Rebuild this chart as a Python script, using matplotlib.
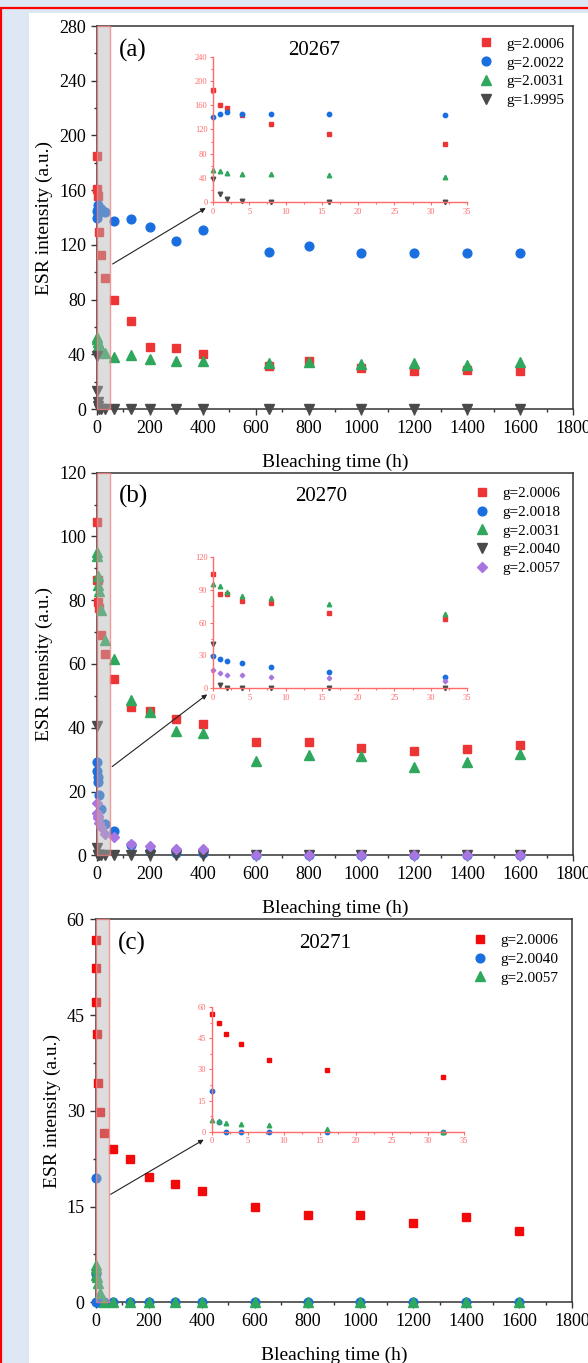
import matplotlib
matplotlib.use('Agg')
import matplotlib.pyplot as plt
from matplotlib.patches import Rectangle
from matplotlib.ticker import MultipleLocator

plt.rcParams['font.family'] = ['Liberation Serif', 'DejaVu Serif']

# Bleaching times (h)
t_a = [0, 1, 2, 4, 8, 16, 32, 64, 128, 200, 300, 400, 650, 800, 1000, 1200, 1400, 1600]
t_bc = [0, 1, 2, 4, 8, 16, 32, 64, 128, 200, 300, 400, 600, 800, 1000, 1200, 1400, 1600]

# (a) sample 20267
a_g20006 = [184.7, 161, 156, 143.8, 129.4, 112.8, 95.7, 79.5, 64.6, 45.4, 44.4, 40.2, 31.2, 35.1, 30.2, 27.8, 28.3, 27.8]
a_g20022 = [140, 145, 148.8, 146, 146, 146, 143.8, 137.6, 138.8, 132.9, 123.2, 131.2, 114.9, 119.3, 113.9, 113.9, 114.4, 114.4]
a_g20031 = [53, 50.9, 48.7, 45.9, 46.5, 44.2, 40.9, 38, 39.5, 36.8, 35.4, 35.4, 33.9, 34.1, 32.9, 33.9, 32.4, 34.6]
a_g19995 = [38.7, 13.3, 5.5, 2.2, 0, 0, 0, 0, 0, 0, 0, 0, 0, 0, 0, 0, 0, 0]

# (b) sample 20270
b_g20006 = [104.5, 86.2, 86.2, 79.5, 77.7, 69.2, 63.1, 55.4, 46.4, 45.4, 42.9, 41.3, 35.6, 35.5, 33.6, 32.8, 33.2, 34.6]
b_g20018 = [29.2, 26.5, 24.7, 23.1, 18.9, 14.6, 9.7, 7.6, 3.1, 1.5, 0.8, 0.6, 0, 0, 0, 0, 0, 0]
b_g20031 = [95, 93.8, 87.7, 84.7, 82.8, 76.8, 67.6, 61.5, 48.7, 44.8, 38.9, 38.5, 29.7, 31.5, 31.1, 27.8, 29.4, 31.7]
b_g20040 = [40.6, 2.4, 0, 0, 0, 0, 0, 0, 0, 0, 0, 0, 0, 0, 0, 0, 0, 0]
b_g20057 = [16.4, 13.4, 12.2, 11.6, 10, 8.8, 6.7, 5.6, 3.6, 3.0, 2.1, 1.9, 0, 0, 0, 0, 0, 0]

# (c) sample 20271
c_g20006 = [56.8, 52.3, 47, 42.1, 34.4, 29.8, 26.5, 24, 22.5, 19.6, 18.6, 17.5, 14.9, 13.7, 13.6, 12.5, 13.4, 11.2]
c_g20040 = [19.5, 4.5, 0, 0, 0, 0, 0, 0, 0, 0, 0, 0, 0, 0, 0, 0, 0, 0]
c_g20057 = [5.8, 5.3, 4.3, 3.9, 3.1, 1.4, 0, 0, 0, 0, 0, 0, 0, 0, 0, 0, 0, 0]

RED = '#ee3535'
RED_C = '#f20a0a'
BLUE = '#1a6fe0'
GREEN = '#2fa85e'
DARK = '#4a4a4a'
PURPLE = '#a876e0'
INSET_C = '#ff6a6a'

panels = [
    dict(t=t_a, label='(a)', name='20267', ymax=280, ystep=40, iymax=240, istep=40,
         title_x=0.456, arrow=((50, 105), (420, 148)), leg=(0.782, 0.995),
         inset=[0.3622, 0.8518, 0.432, 0.1064],
         series=[(a_g20006, 's', RED, 'g=2.0006'), (a_g20022, 'o', BLUE, 'g=2.0022'),
                 (a_g20031, '^', GREEN, 'g=2.0031'), (a_g19995, 'v', DARK, 'g=1.9995')]),
    dict(t=t_bc, label='(b)', name='20270', ymax=120, ystep=20, iymax=120, istep=30,
         title_x=0.47, arrow=((49, 27.3), (425, 51)), leg=(0.773, 0.988),
         inset=[0.3622, 0.4952, 0.432, 0.0961],
         series=[(b_g20006, 's', RED, 'g=2.0006'), (b_g20018, 'o', BLUE, 'g=2.0018'),
                 (b_g20031, '^', GREEN, 'g=2.0031'), (b_g20040, 'v', DARK, 'g=2.0040'),
                 (b_g20057, 'D', PURPLE, 'g=2.0057')]),
    dict(t=t_bc, label='(c)', name='20271', ymax=60, ystep=15, iymax=60, istep=15,
         title_x=0.481, arrow=((47.5, 16.7), (417, 25.7)), leg=(0.771, 0.987),
         inset=[0.36, 0.1697, 0.4296, 0.0913],
         series=[(c_g20006, 's', RED_C, 'g=2.0006'), (c_g20040, 'o', BLUE, 'g=2.0040'),
                 (c_g20057, '^', GREEN, 'g=2.0057')]),
]
main_pos = [[0.165, 0.6999, 0.8095, 0.281],
            [0.165, 0.3725, 0.8095, 0.2807],
            [0.1628, 0.04453, 0.8105, 0.281]]
msize = {'s': 5.5, 'o': 6.3, '^': 6.5, 'v': 6.5, 'D': 4.6}

fig = plt.figure(figsize=(5.88, 13.63), dpi=100, facecolor='#dde8f4')
# screenshot frame: white panel and red border
fig.add_artist(Rectangle((29 / 588, -0.01), 1.0, 1 - 13 / 1363 + 0.01, transform=fig.transFigure,
                         facecolor='white', edgecolor='none', zorder=-10))
fig.add_artist(Rectangle((1.5 / 588, -0.01), 1.1, 1 - 8 / 1363 + 0.01, transform=fig.transFigure,
                         facecolor='none', edgecolor='#ff0000', lw=1.6, zorder=-5))

for p, pos in zip(panels, main_pos):
    ax = fig.add_axes(pos)
    ax.set_facecolor('none')
    for vals, mk, col, lab in p['series']:
        ax.plot(p['t'], vals, linestyle='none', marker=mk, color=col, markersize=msize[mk],
                label=lab, clip_on=False, zorder=3)
    # highlighted region 0-50 h
    ax.add_patch(Rectangle((0, 0), 50, p['ymax'], facecolor='#b5b5b5', alpha=0.45,
                           edgecolor='none', zorder=4, clip_on=False))
    ax.add_patch(Rectangle((0, 0), 50, p['ymax'], facecolor='none', edgecolor='#f08080',
                           alpha=0.8, lw=1.0, zorder=4, clip_on=False))
    ax.set_xlim(0, 1800)
    ax.set_ylim(0, p['ymax'])
    ax.xaxis.set_major_locator(MultipleLocator(200))
    ax.xaxis.set_minor_locator(MultipleLocator(100))
    ax.yaxis.set_major_locator(MultipleLocator(p['ystep']))
    ax.yaxis.set_minor_locator(MultipleLocator(p['ystep'] / 2))
    ax.tick_params(which='major', direction='out', length=4.5, width=1.0, labelsize=13, colors='#333333',
                   labelcolor='black')
    ax.tick_params(which='minor', direction='out', length=2.5, width=1.0, colors='#333333')
    for s in ax.spines.values():
        s.set_color('#333333')
        s.set_linewidth(1.1)
    ax.set_xlabel('Bleaching time (h)', fontsize=14, labelpad=12)
    ax.set_ylabel('ESR intensity (a.u.)', fontsize=14, labelpad=4)
    ax.text(0.046, 0.937, p['label'], transform=ax.transAxes, fontsize=18, ha='left', va='center')
    ax.text(p['title_x'], 0.937, p['name'], transform=ax.transAxes, fontsize=15, ha='center', va='center')
    ax.legend(loc='upper left', bbox_to_anchor=p['leg'], frameon=False, fontsize=11,
              handlelength=1.0, handletextpad=0.85, labelspacing=0.33, borderaxespad=0.2)
    (x0, y0), (x1, y1) = p['arrow']
    ax.annotate('', xy=(x1, y1), xytext=(x0, y0),
                arrowprops=dict(arrowstyle='-|>', color='#222222', lw=0.8, mutation_scale=7), zorder=5)

    # inset zoom on the first 32 h
    ins = fig.add_axes(p['inset'])
    ins.set_facecolor('none')
    for vals, mk, col, lab in p['series']:
        ins.plot(p['t'][:7], vals[:7], linestyle='none', marker=mk, color=col,
                 markersize=msize[mk] * 0.5, clip_on=False)
    ins.set_xlim(0, 35)
    ins.set_ylim(0, p['iymax'])
    ins.xaxis.set_major_locator(MultipleLocator(5))
    ins.xaxis.set_minor_locator(MultipleLocator(2.5))
    ins.yaxis.set_major_locator(MultipleLocator(p['istep']))
    ins.yaxis.set_minor_locator(MultipleLocator(p['istep'] / 2))
    ins.spines['top'].set_visible(False)
    ins.spines['right'].set_visible(False)
    for s in ('left', 'bottom'):
        ins.spines[s].set_color(INSET_C)
        ins.spines[s].set_linewidth(1.0)
    ins.tick_params(which='major', direction='out', length=2.5, width=0.8, labelsize=6,
                    colors=INSET_C, pad=1.5)
    ins.tick_params(which='minor', direction='out', length=1.5, width=0.8, colors=INSET_C)

fig.savefig('out.png', dpi=100, facecolor=fig.get_facecolor())
